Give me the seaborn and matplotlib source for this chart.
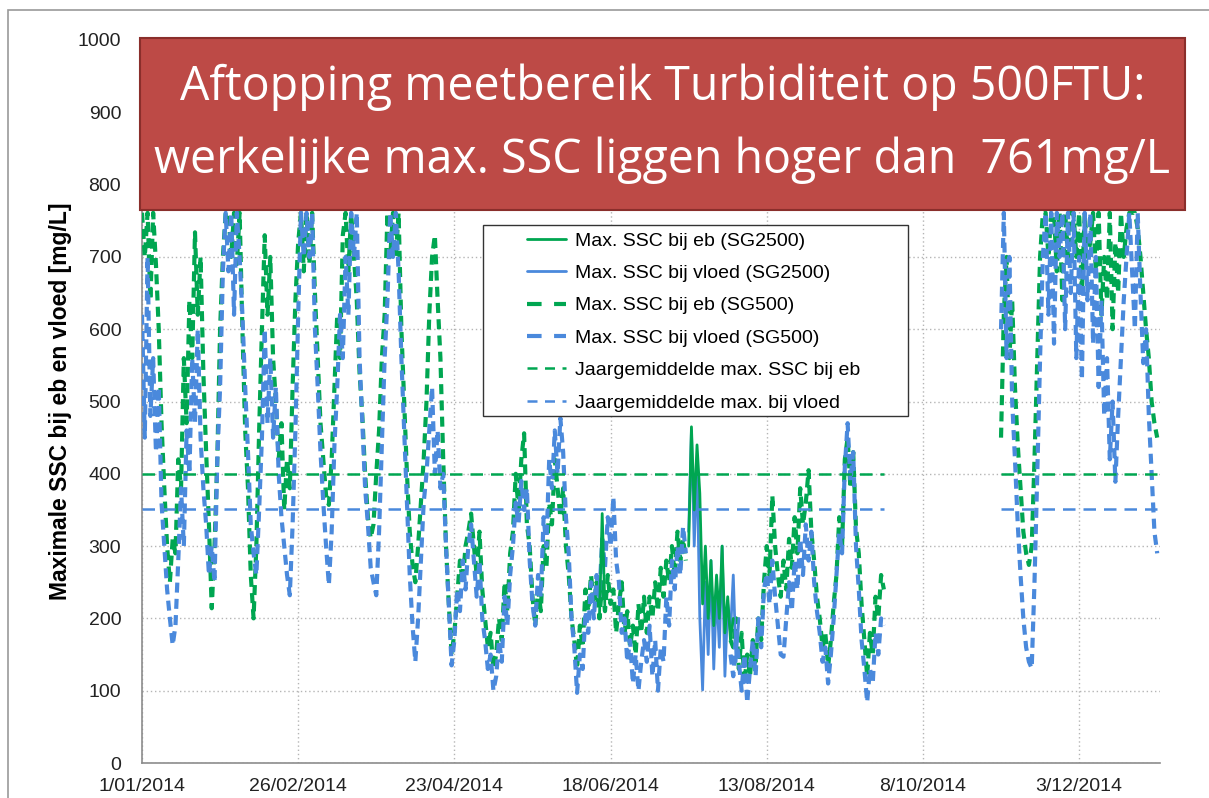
import numpy as np
import pandas as pd
import matplotlib
matplotlib.use("Agg")
import matplotlib.pyplot as plt
from matplotlib.patches import Rectangle
from matplotlib.lines import Line2D
from matplotlib.ticker import FuncFormatter, MultipleLocator
import matplotlib.dates as mdates
import seaborn as sns

NaN = np.nan

# ---------------------------------------------------------------------------
# Daily maximum SSC per tide type [mg/L], SG500 sensor (clipped at 761 mg/L)
# Segment 1: 1 Jan - 24 Sep 2014, segment 2: 5 Nov - 31 Dec 2014
# ---------------------------------------------------------------------------
eb_jan = [761, 700, 761, 640, 761, 690, 600, 470, 380, 300, 250, 310, 290, 420, 380, 560,
          470, 640, 560, 734, 620, 700, 540, 430, 330, 214, 300, 420, 600, 700, 761]
eb_feb = [761, 700, 761, 690, 761, 600, 460, 380, 260, 200, 300, 460, 600, 730, 620, 700,
          560, 500, 420, 470, 350, 420, 380, 520, 640, 720, 761, 680]
eb_mar = [761, 690, 761, 650, 560, 470, 420, 370, 357, 420, 520, 620, 560, 730, 761, 680,
          761, 700, 640, 540, 480, 400, 340, 311, 330, 400, 460, 560, 620, 761, 700]
eb_apr = [761, 700, 761, 600, 500, 400, 320, 274, 250, 300, 360, 420, 500, 620, 700, 730,
          640, 560, 420, 300, 220, 150, 180, 230, 280, 250, 300, 320, 345, 300]
eb_may = [260, 320, 240, 200, 160, 180, 130, 150, 200, 170, 250, 210, 290, 320, 400, 350,
          420, 456, 330, 300, 230, 190, 240, 210, 300, 270, 360, 330, 420, 380, 340]
eb_jun = [380, 300, 260, 200, 170, 130, 190, 160, 240, 210, 260, 220, 250, 200, 250, 210,
          260, 220, 240, 180, 220, 250, 180, 210, 160, 190, 150, 220, 180, 230]
eb_jul = [180, 230, 200, 250, 210, 270, 230, 280, 250, 300, 260, 320, 280, 310, 280,
          NaN, NaN, NaN, NaN, NaN, NaN, NaN, NaN, NaN, NaN, NaN, NaN, NaN, NaN, NaN, 170]
eb_aug = [160, 200, 130, 180, 110, 150, 120, 170, 140, 200, 170, 250, 300, 260, 370, 300,
          260, 230, 280, 240, 310, 270, 340, 290, 380, 330, 360, 405, 320, 280, 230]
eb_sep = [200, 160, 180, 133, 170, 220, 260, 340, 300, 420, 450, 380, 430, 325, 290, 220,
          170, 120, 180, 150, 230, 200, 260, 240]
eb_nov = [450, 620, 700, 560, 640, 520, 440, 380, 320, 290, 274, 300, 420, 560, 700, 761,
          761, 700, 761, 761, 680, 761, 640, 761, 700, 761]
eb_dec = [761, 700, 761, 650, 761, 700, 720, 761, 680, 761, 620, 700, 640, 761, 600, 720,
          650, 761, 700, 740, 761, 761, 761, 740, 700, 650, 600, 560, 500, 470, 450]

vl_jan = [620, 450, 700, 480, 560, 430, 520, 360, 300, 240, 200, 163, 190, 280, 380, 300,
          460, 400, 560, 470, 600, 450, 380, 330, 260, 300, 250, 420, 520, 680, 761]
vl_feb = [680, 761, 620, 761, 700, 620, 520, 430, 330, 290, 260, 350, 450, 600, 470, 560,
          450, 520, 400, 340, 300, 260, 232, 330, 460, 620, 761, 700]
vl_mar = [761, 700, 761, 600, 520, 430, 360, 300, 246, 320, 440, 520, 620, 560, 700, 620,
          761, 700, 761, 560, 470, 380, 330, 270, 250, 232, 320, 440, 560, 640, 761]
vl_apr = [700, 761, 680, 560, 460, 360, 260, 190, 140, 200, 280, 360, 400, 460, 520, 400,
          460, 380, 400, 300, 220, 135, 170, 240, 210, 280, 240, 300, 330, 280]
vl_may = [230, 280, 200, 170, 130, 150, 100, 120, 170, 140, 230, 190, 260, 300, 360, 330,
          390, 350, 380, 280, 220, 190, 260, 230, 340, 300, 420, 380, 460, 400, 477]
vl_jun = [430, 340, 290, 200, 160, 97, 150, 130, 210, 180, 250, 200, 260, 230, 310, 270,
          340, 300, 368, 280, 250, 180, 200, 140, 170, 110, 150, 100, 140, 170]
vl_jul = [140, 190, 120, 170, 100, 160, 140, 230, 190, 280, 240, 300, 260, 327, 290,
          NaN, NaN, NaN, NaN, NaN, NaN, NaN, NaN, NaN, NaN, NaN, NaN, NaN, NaN, NaN, 150]
vl_aug = [120, 180, 140, 100, 150, 83, 130, 170, 120, 200, 160, 240, 262, 220, 280, 230,
          190, 150, 147, 200, 250, 210, 280, 240, 310, 260, 330, 280, 320, 250, 210]
vl_sep = [180, 140, 160, 110, 150, 200, 260, 320, 290, 410, 470, 390, 430, 300, 240, 170,
          130, 84, 130, 110, 180, 150, 200, 190]
vl_nov = [600, 761, 560, 700, 500, 420, 330, 260, 200, 160, 140, 131, 250, 400, 560, 700,
          761, 620, 761, 580, 761, 700, 761, 600, 761, 650]
vl_dec = [761, 560, 700, 530, 761, 640, 761, 580, 700, 520, 640, 480, 560, 420, 500, 389,
          480, 560, 640, 700, 761, 680, 600, 761, 650, 553, 600, 480, 400, 320, 290]

# SG2500 sensor (not clipped), short records in summer
sg2500_eb_jun = [200, 345, 210]                       # 14 - 16 Jun
sg2500_eb_jul = [300, 465, 350, 440, 373, 220, 300, 200, 280, 190, 260, 200, 300, 180,
                 230, 170, 200]                       # 16 Jul - 1 Aug
sg2500_vl_jul = [320, 460, 300, 420, 200, 101, 250, 150, 280, 130, 240, 160, 300, 120,
                 220, 180, 260, 140, 200]             # 16 Jul - 3 Aug

# Yearly averages of the maximum SSC
EB_MEAN = 400
VL_MEAN = 352

tick_dates = ["2014-01-01", "2014-02-26", "2014-04-23", "2014-06-18",
              "2014-08-13", "2014-10-08", "2014-12-03"]

title_lines = ["Aftopping meetbereik Turbiditeit op 500FTU:",
               "werkelijke max. SSC liggen hoger dan  761mg/L"]
legend_labels = ["Max. SSC bij eb (SG2500)", "Max. SSC bij vloed (SG2500)",
                 "Max. SSC bij eb (SG500)", "Max. SSC bij vloed (SG500)",
                 "Jaargemiddelde max. SSC bij eb", "Jaargemiddelde max. bij vloed"]
ylabel = "Maximale SSC bij eb en vloed [mg/L]"

GREEN = "#00A651"
BLUE = "#4A89DC"

# ---------------------------------------------------------------------------
seg1 = pd.date_range("2014-01-01", "2014-09-24", freq="D")
seg2 = pd.date_range("2014-11-05", "2014-12-31", freq="D")
eb1 = np.array(eb_jan + eb_feb + eb_mar + eb_apr + eb_may + eb_jun + eb_jul + eb_aug + eb_sep, float)
vl1 = np.array(vl_jan + vl_feb + vl_mar + vl_apr + vl_may + vl_jun + vl_jul + vl_aug + vl_sep, float)
eb2 = np.array(eb_nov + eb_dec, float)
vl2 = np.array(vl_nov + vl_dec, float)

sg_eb_a = pd.Series(sg2500_eb_jun, index=pd.date_range("2014-06-14", periods=len(sg2500_eb_jun)))
sg_eb_b = pd.Series(sg2500_eb_jul, index=pd.date_range("2014-07-16", periods=len(sg2500_eb_jul)))
sg_vl = pd.Series(sg2500_vl_jul, index=pd.date_range("2014-07-16", periods=len(sg2500_vl_jul)))


def runs(dates, values):
    """Split a daily series into its gap-free pieces."""
    s = pd.Series(values, index=dates)
    valid = s.notna()
    grp = (valid != valid.shift()).cumsum()
    for _, part in s[valid].groupby(grp[valid]):
        yield part


sns.set_theme(style="white")
plt.rcParams["font.family"] = ["Liberation Sans", "DejaVu Sans"]

W, H = 1209, 798
fig = plt.figure(figsize=(W / 100, H / 100), dpi=100)
fig.patch.set_facecolor("white")


def fx(px):
    return px / W


def fy(py):
    return 1 - py / H


ax = fig.add_axes([fx(142), fy(763), fx(1160) - fx(142), fy(40) - fy(763)])
ax.set_facecolor("white")

dash_data = (0, (2.4, 1.5))
dash_mean = (0, (5, 3.2))

# SG500 series (dashed)
for dates, eb, vl in [(seg1, eb1, vl1), (seg2, eb2, vl2)]:
    for part in runs(dates, eb):
        sns.lineplot(x=part.index, y=part.values, ax=ax, color=GREEN, linewidth=3,
                     linestyle=dash_data, estimator=None, sort=False, zorder=3)
    for part in runs(dates, vl):
        sns.lineplot(x=part.index, y=part.values, ax=ax, color=BLUE, linewidth=3,
                     linestyle=dash_data, estimator=None, sort=False, zorder=3)

# SG2500 series (solid)
sns.lineplot(x=sg_vl.index, y=sg_vl.values, ax=ax, color=BLUE, linewidth=2,
             estimator=None, sort=False, zorder=4)
for part in (sg_eb_a, sg_eb_b):
    sns.lineplot(x=part.index, y=part.values, ax=ax, color=GREEN, linewidth=2,
                 estimator=None, sort=False, zorder=4)

# Yearly means over the periods with data
for dates in (seg1, seg2):
    sns.lineplot(x=dates, y=np.full(len(dates), EB_MEAN), ax=ax, color=GREEN,
                 linewidth=1.8, linestyle=dash_mean, estimator=None, zorder=5)
    sns.lineplot(x=dates, y=np.full(len(dates), VL_MEAN), ax=ax, color=BLUE,
                 linewidth=1.8, linestyle=dash_mean, estimator=None, zorder=5)

# Axes styling
ax.set_xlim(pd.Timestamp("2014-01-01"), pd.Timestamp("2015-01-01"))
ax.set_ylim(0, 1000)
ax.yaxis.set_major_locator(MultipleLocator(100))
ticks = pd.to_datetime(tick_dates)
ax.set_xticks(ticks)
ax.xaxis.set_major_formatter(FuncFormatter(
    lambda v, pos: (lambda d: f"{d.day}/{d:%m/%Y}")(mdates.num2date(v))))
ax.set_xlabel("")
ax.set_ylabel(ylabel, fontsize=16.5, fontweight="bold", color="black")
ax.yaxis.set_label_coords(-0.069, 0.5)
ax.tick_params(axis="both", labelsize=14, colors="#222222", length=6, width=1,
               color="#8C8C8C", direction="out")
ax.tick_params(axis="y", pad=9)
ax.tick_params(axis="x", pad=5)
for side in ("top", "right"):
    ax.spines[side].set_visible(False)
for side in ("left", "bottom"):
    ax.spines[side].set_color("#8C8C8C")
    ax.spines[side].set_linewidth(1.2)
ax.grid(True, which="major", axis="both", color="#B5B5B5", linewidth=1,
        linestyle=(0, (1, 2)), zorder=0)
ax.set_axisbelow(True)

# Legend with its own frame
handles = [
    Line2D([], [], color=GREEN, lw=2),
    Line2D([], [], color=BLUE, lw=2),
    Line2D([], [], color=GREEN, lw=3, linestyle=(0, (3.5, 3))),
    Line2D([], [], color=BLUE, lw=3, linestyle=(0, (3.5, 3))),
    Line2D([], [], color=GREEN, lw=1.8, linestyle=(0, (4, 3))),
    Line2D([], [], color=BLUE, lw=1.8, linestyle=(0, (4, 3))),
]
leg = ax.legend(handles, legend_labels, loc="upper left",
                bbox_to_anchor=(fx(527), fy(232)), bbox_transform=fig.transFigure,
                frameon=False, fontsize=14, borderpad=0, handlelength=2.0,
                handletextpad=0.45, labelspacing=0.76, borderaxespad=0)
leg.set_zorder(8)
for t in leg.get_texts():
    t.set_color("black")
ax.add_patch(Rectangle((fx(483), fy(416)), fx(908) - fx(483), fy(225) - fy(416),
                       transform=fig.transFigure, facecolor="white", edgecolor="#333333",
                       lw=1, zorder=7, clip_on=False))

# Outer chart border
fig.add_artist(Rectangle((fx(8), -0.05), 1.2, fy(10) + 0.05, transform=fig.transFigure,
                         fill=False, edgecolor="#9A9A9A", lw=1.2, zorder=1))

# Title banner
fig.add_artist(Rectangle((fx(140), fy(210)), fx(1185) - fx(140), fy(38) - fy(210),
                         transform=fig.transFigure, facecolor="#BD4A46",
                         edgecolor="#8A2E2B", lw=1.5, zorder=10))
cx = (fx(140) + fx(1185)) / 2
t1 = fig.text(cx, fy(100), title_lines[0], ha="center", va="baseline", color="white",
              fontsize=30, family=["Open Sans", "DejaVu Sans"], zorder=11)
t2 = fig.text(cx, fy(173), title_lines[1], ha="center", va="baseline", color="white",
              fontsize=30, family=["Open Sans", "DejaVu Sans"], zorder=11)
fig.canvas.draw()
r = fig.canvas.get_renderer()
w1 = t1.get_window_extent(r).width
w2 = t2.get_window_extent(r).width
scale = (969 / w1 + 1011 / w2) / 2
t1.set_fontsize(30 * scale)
t2.set_fontsize(30 * scale)

fig.savefig("out.png", dpi=100, facecolor="white")
